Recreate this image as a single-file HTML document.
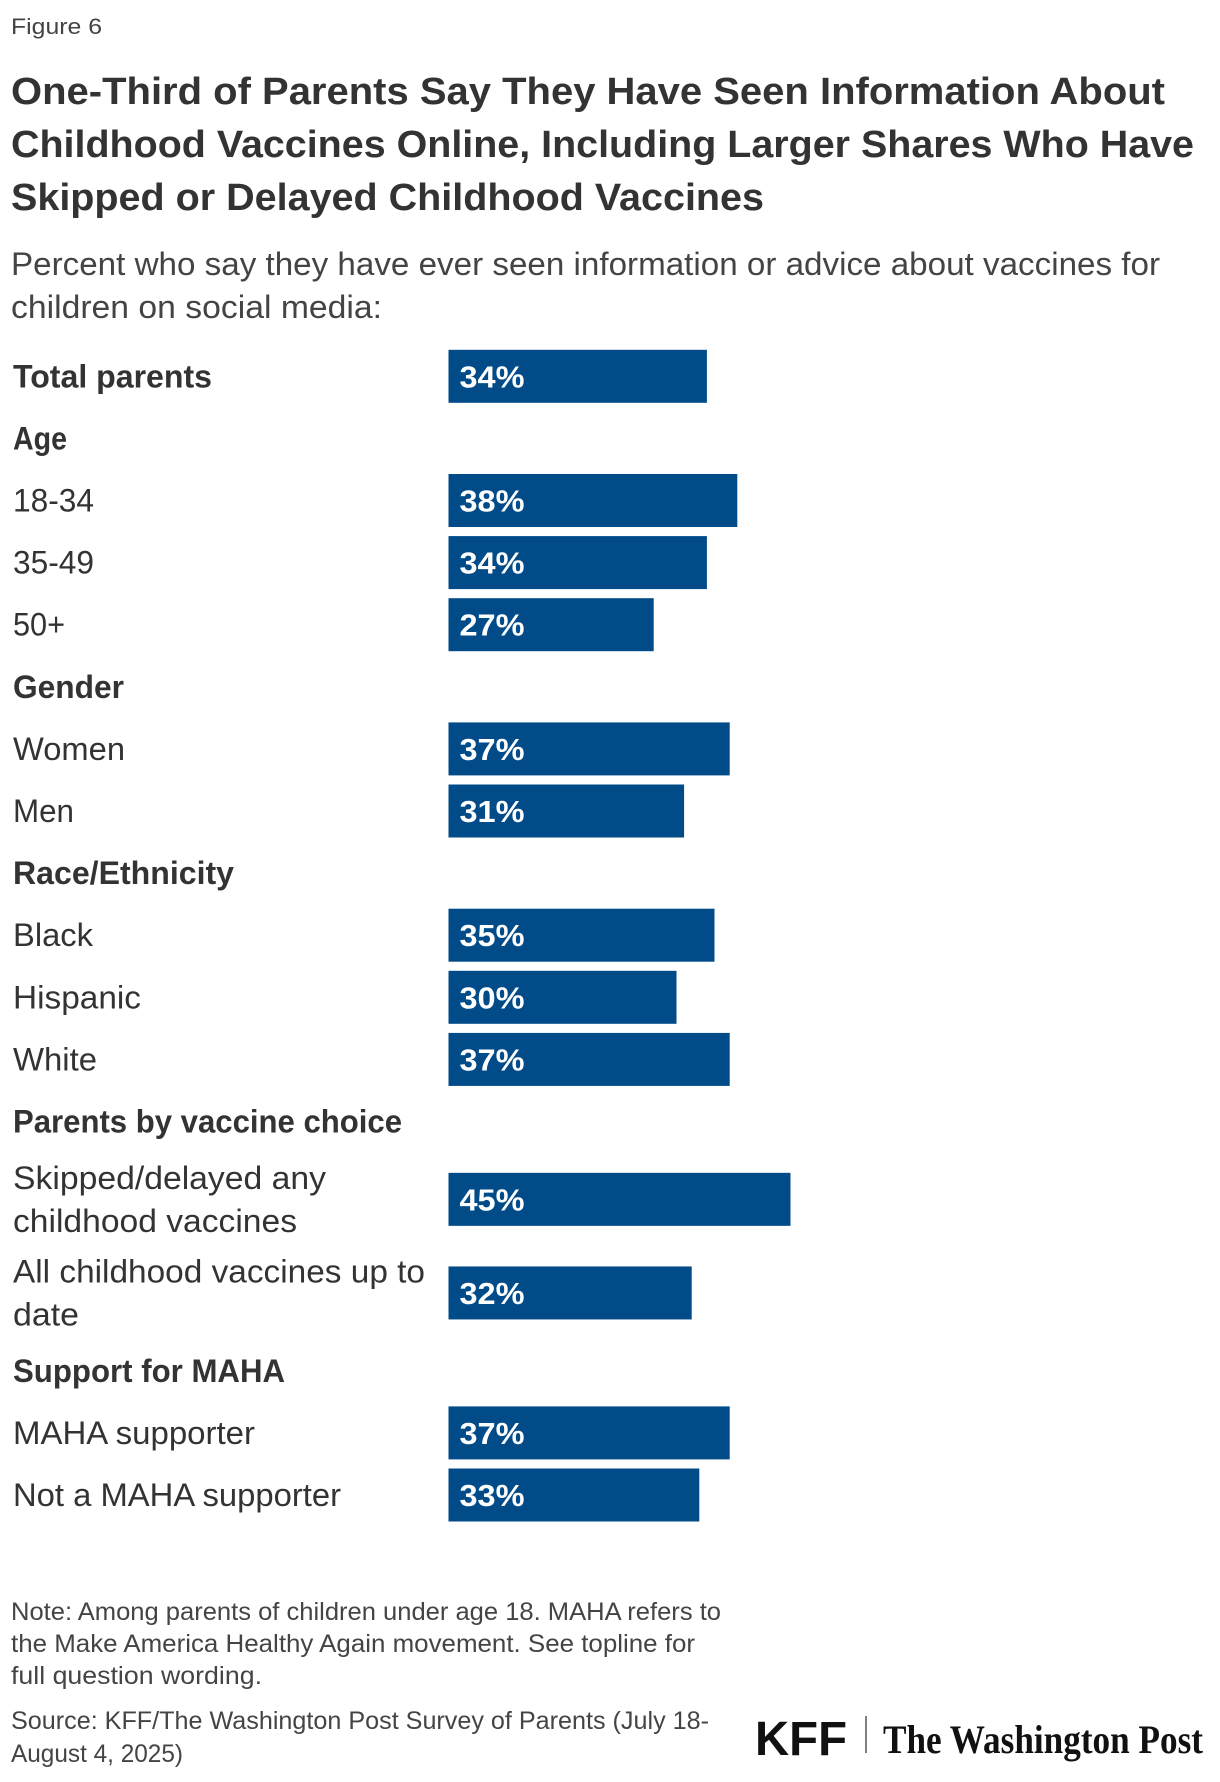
<!DOCTYPE html>
<html><head><meta charset="utf-8"><style>
html,body{margin:0;padding:0;background:#fff;}
svg{display:block;font-family:"Liberation Sans",sans-serif;}
</style></head><body>
<svg id="chart" width="1220" height="1782" viewBox="0 0 1220 1782" xmlns="http://www.w3.org/2000/svg">
<text x="11" y="34" font-size="22" fill="#444" textLength="91" lengthAdjust="spacingAndGlyphs">Figure 6</text>
<g font-size="38" font-weight="bold" fill="#333">
<text x="11" y="104" textLength="1154" lengthAdjust="spacingAndGlyphs">One-Third of Parents Say They Have Seen Information About</text>
<text x="11" y="157" textLength="1183" lengthAdjust="spacingAndGlyphs">Childhood Vaccines Online, Including Larger Shares Who Have</text>
<text x="11" y="210" textLength="753" lengthAdjust="spacingAndGlyphs">Skipped or Delayed Childhood Vaccines</text>
</g>
<g font-size="32" fill="#444">
<text x="11" y="275" textLength="1149" lengthAdjust="spacingAndGlyphs">Percent who say they have ever seen information or advice about vaccines for</text>
<text x="11" y="318" textLength="371" lengthAdjust="spacingAndGlyphs">children on social media:</text>
</g>
<g id="rows"></g>
<g font-size="25" fill="#444">
<text x="11" y="1620" textLength="710" lengthAdjust="spacingAndGlyphs">Note: Among parents of children under age 18. MAHA refers to</text>
<text x="11" y="1652" textLength="684" lengthAdjust="spacingAndGlyphs">the Make America Healthy Again movement. See topline for</text>
<text x="11" y="1684" textLength="251" lengthAdjust="spacingAndGlyphs">full question wording.</text>
</g>
<g font-size="25" fill="#444">
<text x="11" y="1729" textLength="698" lengthAdjust="spacingAndGlyphs">Source: KFF/The Washington Post Survey of Parents (July 18-</text>
<text x="11" y="1762" textLength="172" lengthAdjust="spacingAndGlyphs">August 4, 2025)</text>
</g>
<text x="755" y="1755" font-size="48" font-weight="bold" fill="#111" textLength="92" lengthAdjust="spacingAndGlyphs">KFF</text>
<line x1="866" y1="1716" x2="866" y2="1753" stroke="#555" stroke-width="1.5"/>
<text x="883" y="1753" font-family="'Liberation Serif',serif" font-size="40" font-weight="bold" fill="#111" textLength="320" lengthAdjust="spacingAndGlyphs">The Washington Post</text>
<script>
const labels = [["Total parents"],["Age"],["18-34"],["35-49"],["50+"],["Gender"],["Women"],["Men"],["Race/Ethnicity"],["Black"],["Hispanic"],["White"],["Parents by vaccine choice"],["Skipped/delayed any","childhood vaccines"],["All childhood vaccines up to","date"],["Support for MAHA"],["MAHA supporter"],["Not a MAHA supporter"]];
const values = [34,null,38,34,27,null,37,31,null,35,30,37,null,45,32,null,37,33];
const bold = [true,true,false,false,false,true,false,false,true,false,false,false,true,false,false,true,false,false];
const widths = [[199],[54],[81],[81],[52],[111],[112],[61],[221],[80],[128],[84],[389],[313,284],[412,66],[272],[242],[328]];
const NS="http://www.w3.org/2000/svg";
const g=document.getElementById('rows');
const x0=448.5, pxPerPct=7.6, barH=53;
const xs=v=>v*pxPerPct;
let y=376.3, prevH=null;
labels.forEach((lab,i)=>{
  const h = lab.length>1?93.6:62.1;
  if(prevH!==null) y += (prevH+h)/2;
  prevH=h;
  const grp=document.createElementNS(NS,'g');
  
  
  lab.forEach((line,k)=>{
    const t=document.createElementNS(NS,'text');
    
    
    t.setAttribute('x',13);
    const ly = lab.length>1 ? y-21.5+k*43 : y;
    t.setAttribute('y',ly+11);
    t.setAttribute('font-size',32);
    t.setAttribute('fill','#333');
    if(bold[i]) t.setAttribute('font-weight','bold');
    t.setAttribute('textLength',widths[i][k]);
    t.setAttribute('lengthAdjust','spacingAndGlyphs');
    t.textContent=line;
    grp.appendChild(t);
  });
  if(values[i]!==null){
    const r=document.createElementNS(NS,'rect');
    
    
    r.setAttribute('x',x0);
    r.setAttribute('y',y-barH/2);
    r.setAttribute('width',xs(values[i]));
    r.setAttribute('height',barH);
    r.setAttribute('fill','#004b88');
    grp.appendChild(r);
    const t=document.createElementNS(NS,'text');
    
    
    t.setAttribute('x',x0+11);
    t.setAttribute('y',y+11);
    t.setAttribute('font-size',31);
    t.setAttribute('font-weight','bold');
    t.setAttribute('fill','#fff');
    t.setAttribute('textLength',65);
    t.setAttribute('lengthAdjust','spacingAndGlyphs');
    t.textContent=values[i]+'%';
    grp.appendChild(t);
  }
  g.appendChild(grp);
});
</script>
</svg>
</body></html>
